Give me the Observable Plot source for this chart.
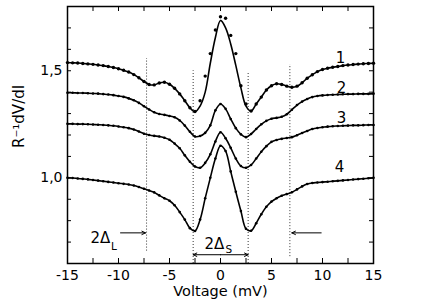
<!DOCTYPE html>
<html><head><meta charset="utf-8">
<script src="https://cdn.jsdelivr.net/npm/d3@7"></script>
<script src="https://cdn.jsdelivr.net/npm/@observablehq/plot@0.6"></script>
<style>body{margin:0;background:#fff}</style>
</head><body><div id="chart"></div>
<script>
const voltage = [-15,-14.5,-14,-13.5,-13,-12.5,-12,-11.5,-11,-10.5,-10,-9.5,-9,-8.5,-8,-7.5,-7,-6.5,-6,-5.5,-5,-4.5,-4,-3.5,-3,-2.5,-2,-1.5,-1,-0.5,0,0.5,1,1.5,2,2.5,3,3.5,4,4.5,5,5.5,6,6.5,7,7.5,8,8.5,9,9.5,10,10.5,11,11.5,12,12.5,13,13.5,14,14.5,15];
const curve1 = [1.538,1.537,1.536,1.534,1.532,1.530,1.527,1.524,1.520,1.515,
  1.509,1.502,1.494,1.482,1.467,1.450,1.436,1.434,1.443,1.446,
  1.437,1.418,1.392,1.360,1.327,1.310,1.360,1.475,1.580,1.690,
  1.752,
  1.745,1.665,1.580,1.430,1.345,1.312,1.345,1.377,1.410,1.430,
  1.439,1.436,1.428,1.423,1.428,1.444,1.465,1.481,1.496,1.506,
  1.512,1.516,1.520,1.524,1.527,1.529,1.531,1.533,1.534,1.535];
const curve1Fit = [1.538,1.537,1.536,1.534,1.532,1.530,1.527,1.524,1.520,1.515,
  1.509,1.502,1.494,1.482,1.467,1.450,1.436,1.434,1.443,1.446,
  1.437,1.418,1.392,1.360,1.327,1.308,1.335,1.400,1.535,1.655,
  1.735,
  1.700,1.625,1.525,1.420,1.335,1.312,1.345,1.377,1.410,1.430,
  1.439,1.436,1.428,1.423,1.428,1.444,1.465,1.481,1.496,1.506,
  1.512,1.516,1.520,1.524,1.527,1.529,1.531,1.533,1.534,1.535];
const curve2 = [1.397,1.397,1.396,1.396,1.395,1.394,1.393,1.391,1.389,1.386,
  1.382,1.378,1.371,1.362,1.350,1.334,1.319,1.306,1.298,1.294,
  1.289,1.283,1.268,1.244,1.215,1.193,1.195,1.210,1.245,1.315,
  1.345,
  1.322,1.275,1.232,1.203,1.190,1.205,1.228,1.250,1.266,1.276,
  1.280,1.285,1.297,1.318,1.340,1.356,1.368,1.377,1.382,1.385,
  1.387,1.388,1.389,1.390,1.391,1.391,1.392,1.392,1.392,1.393];
const curve3 = [1.252,1.252,1.251,1.251,1.250,1.249,1.248,1.247,1.245,1.243,
  1.240,1.236,1.232,1.226,1.216,1.206,1.200,1.196,1.193,1.187,
  1.178,1.160,1.138,1.105,1.075,1.053,1.047,1.070,1.110,1.170,
  1.213,
  1.185,1.140,1.090,1.055,1.047,1.060,1.090,1.122,1.148,1.168,
  1.177,1.182,1.186,1.190,1.199,1.209,1.219,1.228,1.233,1.236,
  1.239,1.241,1.242,1.243,1.244,1.245,1.245,1.246,1.247,1.247];
const curve4 = [1.000,0.999,0.997,0.995,0.993,0.990,0.987,0.984,0.981,0.978,
  0.975,0.972,0.969,0.964,0.957,0.949,0.941,0.932,0.918,0.905,
  0.893,0.872,0.840,0.805,0.765,0.752,0.805,0.905,1.000,1.090,
  1.150,
  1.125,1.030,0.935,0.845,0.762,0.753,0.788,0.830,0.865,0.889,
  0.905,0.916,0.924,0.933,0.946,0.960,0.971,0.976,0.978,0.980,
  0.982,0.984,0.986,0.988,0.990,0.992,0.994,0.996,0.998,1.000];
const curveLabels = ["1","2","3","4"];
const xTickValues = [-15,-10,-5,0,5,10,15];
const xMinorTicks = [-15,-12.5,-10,-7.5,-5,-2.5,0,2.5,5,7.5,10,12.5,15];
const yTickValues = [1.0,1.5];
const yMinorTicks = [0.6,0.7,0.8,0.9,1.0,1.1,1.2,1.3,1.4,1.5,1.6,1.7,1.8];
const gapVoltages = [-7.25,-2.68,2.71,6.8];

// annotation placement (data coordinates)
const gapTop = [1.557,1.50,1.488,1.529];
const gapBottom = [0.658,0.6,0.6,0.632];
const labelX = [11.76,11.86,11.86,11.67];
const labelY = [1.557,1.417,1.277,1.052];

const W = 436, H = 304, mL = 67, mR = 63, mT = 6, mB = 41;
const innerH = H - mT - mB, innerW = W - mL - mR;

const toRows = (vals, id) => voltage.map((v, i) => ({v, r: vals[i], id}));
const fitRows = [...toRows(curve1Fit, 1), ...toRows(curve2, 2), ...toRows(curve3, 3), ...toRows(curve4, 4)];
const dots1 = toRows(curve1, 1);
const dotsRest = [...toRows(curve2, 2), ...toRows(curve3, 3), ...toRows(curve4, 4)];
const gaps = gapVoltages.map((v, i) => ({v, y1: gapBottom[i], y2: gapTop[i]}));
const arrows = [
  {x1: -9.8, x2: -7.35, y: 0.743},
  {x1: 9.87, x2: 6.99, y: 0.743},
  {x1: 0, x2: gapVoltages[1], y: 0.641},
  {x1: 0, x2: gapVoltages[2], y: 0.641}
];

const chart = Plot.plot({
  width: W, height: H,
  marginLeft: mL, marginRight: mR, marginTop: mT, marginBottom: mB,
  x: {domain: [-15, 15]},
  y: {domain: [0.6, 1.8]},
  style: {fontFamily: "DejaVu Sans", fontSize: "14px", color: "black", background: "white", overflow: "visible"},
  marks: [
    Plot.axisX({ticks: xTickValues, tickSize: 0, tickPadding: 7, tickFormat: d => String(d), label: null}),
    Plot.axisY({ticks: yTickValues, tickSize: 0, tickPadding: 5, tickFormat: d => d.toFixed(1).replace(".", ","), label: null}),
    Plot.tickX(xMinorTicks, {x: d => d, insetTop: innerH - 5, stroke: "black"}),
    Plot.tickX(xMinorTicks, {x: d => d, insetBottom: innerH - 5, stroke: "black"}),
    Plot.tickY(yMinorTicks, {y: d => d, insetRight: innerW - 4, stroke: "black"}),
    Plot.tickY(yMinorTicks, {y: d => d, insetLeft: innerW - 4, stroke: "black"}),
    Plot.ruleX(gaps, {x: "v", y1: "y1", y2: "y2", stroke: "black", strokeWidth: 0.8, strokeDasharray: "1,2"}),
    Plot.line(fitRows, {x: "v", y: "r", z: "id", curve: "catmull-rom", stroke: "black", strokeWidth: 1.6}),
    Plot.dot(dots1, {x: "v", y: "r", r: 1.7, fill: "black"}),
    Plot.dot(dotsRest, {x: "v", y: "r", r: 1.3, fill: "black"}),
    Plot.arrow(arrows, {x1: "x1", x2: "x2", y1: "y", y2: "y", stroke: "black", strokeWidth: 1, headLength: 6, headAngle: 50}),
    Plot.text(curveLabels, {x: (d, i) => labelX[i], y: (d, i) => labelY[i], text: d => d, fontSize: 15}),
    Plot.text(["2Δ"], {x: -12.75, y: 0.716, text: d => d, textAnchor: "start", fontSize: 15}),
    Plot.text(["L"], {x: -10.73, y: 0.681, text: d => d, textAnchor: "start", fontSize: 10.5}),
    Plot.text(["2Δ"], {x: -1.57, y: 0.689, text: d => d, textAnchor: "start", fontSize: 15}),
    Plot.text(["S"], {x: 0.49, y: 0.665, text: d => d, textAnchor: "start", fontSize: 10.5}),
    Plot.text(["Voltage (mV)"], {frameAnchor: "bottom", dy: 32.5, text: d => d, fontSize: 14.5}),
    Plot.text(["R⁻¹dV/dI"], {frameAnchor: "left", dx: -48, dy: 13, rotate: -90, text: d => d, fontSize: 15}),
    Plot.frame({stroke: "black", strokeWidth: 1.5})
  ]
});
document.getElementById("chart").appendChild(chart);
</script>
</body></html>
